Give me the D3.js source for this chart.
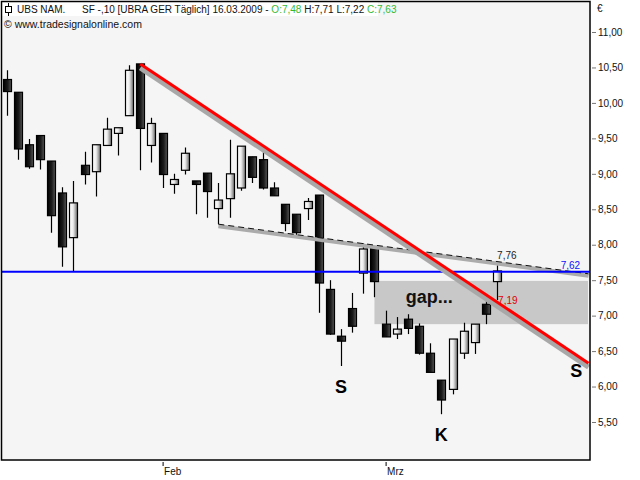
<!DOCTYPE html>
<html><head><meta charset="utf-8">
<script src="https://cdn.jsdelivr.net/npm/d3@7"></script>
<style>
body{margin:0;background:#fff}
svg{display:block}
text{font-family:"Liberation Sans",Arial,sans-serif}
</style>
</head><body>
<svg id="c" width="640" height="480"></svg>
<script>
// ---- data ----
const openV  = [10.33,10.15,9.41,9.54,9.18,8.73,8.10,9.12,9.03,9.40,9.57,9.82,10.55,9.40,9.57,8.85,9.05,8.90,9.01,8.51,8.65,8.80,9.24,9.20,8.80,8.57,8.43,8.51,8.70,7.37,6.71,7.10,7.60,7.96,6.88,6.74,6.95,6.85,6.47,6.09,5.96,6.47,6.62,7.16,7.48];
const highV  = [10.46,10.15,9.49,9.54,9.18,8.81,8.90,9.31,9.41,9.79,9.65,10.53,10.55,9.79,9.57,9.00,9.37,8.90,9.01,8.87,9.48,9.39,9.24,9.36,8.88,8.57,8.43,8.66,8.70,7.50,6.81,7.32,8.02,7.98,7.07,6.98,7.02,6.89,6.61,6.09,6.67,6.90,6.88,7.27,7.71];
const lowV   = [9.82,9.20,9.07,9.06,8.17,7.69,7.63,8.85,8.68,9.40,9.26,9.82,9.05,9.16,8.80,8.72,8.99,8.43,8.38,8.29,8.38,8.76,8.87,8.78,8.69,8.19,8.11,8.35,7.04,6.73,6.29,6.76,7.31,7.26,6.70,6.67,6.74,6.45,6.20,5.61,5.89,6.39,6.46,6.88,7.22];
const closeV = [10.16,9.35,9.10,9.20,8.41,7.97,8.59,8.99,9.41,9.63,9.65,10.46,9.64,9.71,8.99,8.92,9.29,8.85,8.75,8.63,9.00,9.39,8.95,8.80,8.69,8.30,8.17,8.61,7.46,6.74,6.64,6.85,7.94,7.48,6.70,6.81,6.82,6.47,6.20,5.81,6.67,6.78,6.88,7.02,7.63];
const yTickValues = [5.5,6,6.5,7,7.5,8,8.5,9,9.5,10,10.5,11];
const monthIdx = [14,34];
const monthLabels = ["Feb","Mrz"];
const redTrend = [[12,10.55],[52.2,6.33]];
const dashTrend = [[19,8.29],[52.2,7.59]];
const supportLevel = 7.62;
const gapIdx = [33,52.15];
const gapVals = [6.88,7.49];
const valueLabels = [
  {i:44, v:7.76, t:"7,76", c:"#222", dx:0, dy:-3},
  {i:44, v:7.19, t:"7,19", c:"#e00000", dx:1, dy:2},
  {i:49.7, v:7.62, t:"7,62", c:"#1010ff", dx:0, dy:-3}
];
const notes = [
  {i:30, v:5.91, t:"S"},
  {i:39, v:5.23, t:"K"},
  {i:51.1, v:6.13, t:"S"}
];
const gapNote = {i:35.8, v:7.18, t:"gap..."};

// ---- layout ----
const svg = d3.select("#c");
const L=1.5, T=1.5, R=590, B=460;
const x = d3.scaleLinear().domain([0,44]).range([6.5,497.1]);
const y = d3.scaleLinear().domain([5.5,11]).range([422,32]);
const fmt = v => d3.format(".2f")(v).replace(".",",");

const defs = svg.append("defs");
const gUp = defs.append("linearGradient").attr("id","gup");
gUp.append("stop").attr("offset","0%").attr("stop-color","#ffffff");
gUp.append("stop").attr("offset","45%").attr("stop-color","#eeeeee");
gUp.append("stop").attr("offset","100%").attr("stop-color","#6a6a6a");
const gDn = defs.append("linearGradient").attr("id","gdn");
gDn.append("stop").attr("offset","0%").attr("stop-color","#000000");
gDn.append("stop").attr("offset","55%").attr("stop-color","#1c1c1c");
gDn.append("stop").attr("offset","100%").attr("stop-color","#5a5a5a");
defs.append("clipPath").attr("id","plot").append("rect").attr("x",L).attr("y",T).attr("width",R-L).attr("height",B-T);

// plot background
svg.append("rect").attr("x",L).attr("y",T).attr("width",R-L).attr("height",B-T).attr("fill","#f5f5f5");

const plot = svg.append("g").attr("clip-path","url(#plot)");

// gap zone
plot.append("rect")
  .attr("x",x(gapIdx[0])).attr("y",y(gapVals[1]))
  .attr("width",x(gapIdx[1])-x(gapIdx[0])).attr("height",y(gapVals[0])-y(gapVals[1]))
  .attr("fill","#c8c8c8");

// candles
const data = openV.map((o,i)=>({i,o,h:highV[i],l:lowV[i],c:closeV[i]}));
const cg = plot.append("g");
cg.selectAll("line.w").data(data).join("line")
  .attr("x1",d=>Math.round(x(d.i))+0.5).attr("x2",d=>Math.round(x(d.i))+0.5)
  .attr("y1",d=>y(d.h)).attr("y2",d=>y(d.l))
  .attr("stroke","#000").attr("stroke-width",1.2);
cg.selectAll("rect.b").data(data).join("rect")
  .attr("x",d=>Math.round(x(d.i))-3.5).attr("width",8)
  .attr("y",d=>y(Math.max(d.o,d.c)))
  .attr("height",d=>Math.max(1,Math.abs(y(d.o)-y(d.c))))
  .attr("fill",d=>d.c>=d.o?"url(#gup)":"url(#gdn)")
  .attr("stroke","#000").attr("stroke-width",1.2);

// dashed trend line with gray shadow
const ln = d3.line().x(d=>x(d[0])).y(d=>y(d[1]));
plot.append("path").attr("d",ln(dashTrend)).attr("transform","translate(0,2)")
  .attr("fill","none").attr("stroke","#ababab").attr("stroke-width",4);
plot.append("path").attr("d",ln(dashTrend))
  .attr("fill","none").attr("stroke","#111").attr("stroke-width",1).attr("stroke-dasharray","6,4");

// support level
plot.append("line").attr("x1",L).attr("x2",R).attr("y1",y(supportLevel)).attr("y2",y(supportLevel))
  .attr("stroke","#0000ff").attr("stroke-width",2);

// red trend line with gray shadow
plot.append("path").attr("d",ln(redTrend)).attr("transform","translate(0,4)")
  .attr("fill","none").attr("stroke","#a8a8a8").attr("stroke-width",5);
plot.append("path").attr("d",ln(redTrend))
  .attr("fill","none").attr("stroke","#ff0000").attr("stroke-width",3);

// value labels
plot.selectAll("text.vl").data(valueLabels).join("text")
  .attr("x",d=>x(d.i)+d.dx).attr("y",d=>y(d.v)+d.dy)
  .attr("font-size",10).attr("fill",d=>d.c).text(d=>d.t);

// annotations
plot.selectAll("text.n").data(notes).join("text")
  .attr("x",d=>x(d.i)).attr("y",d=>y(d.v)).attr("text-anchor","middle")
  .attr("font-size",18).attr("font-weight","bold").attr("fill","#000").text(d=>d.t);
plot.append("text").attr("x",x(gapNote.i)).attr("y",y(gapNote.v))
  .attr("font-size",18).attr("font-weight","bold").attr("fill","#111").text(gapNote.t);

// header
svg.append("rect").attr("x",2).attr("y",2).attr("width",376).attr("height",14).attr("fill","#ffffff");
const hg = svg.append("g");
hg.append("line").attr("x1",8.5).attr("x2",8.5).attr("y1",3).attr("y2",16).attr("stroke","#000");
hg.append("rect").attr("x",5.5).attr("y",6.5).attr("width",6).attr("height",6).attr("fill","#fff").attr("stroke","#000");
const h1 = hg.append("text").attr("x",17).attr("y",13).attr("font-size",10).attr("fill","#111");
h1.append("tspan").text("UBS NAM.");
h1.append("tspan").attr("x",82).text("SF -,10 [UBRA GER  Täglich] 16.03.2009 - ");
h1.append("tspan").attr("fill","#33bb33").text("O:7,48");
h1.append("tspan").text(" H:7,71 L:7,22 ");
h1.append("tspan").attr("fill","#33bb33").text("C:7,63");
hg.append("text").attr("x",4).attr("y",28).attr("font-size",10.5).attr("fill","#111").text("© www.tradesignalonline.com");

// frame
svg.append("rect").attr("x",L).attr("y",T).attr("width",R-L).attr("height",B-T)
  .attr("fill","none").attr("stroke","#000").attr("stroke-width",1.5);

// y axis
const ya = svg.append("g").attr("transform",`translate(${R+2},0)`)
  .call(d3.axisRight(y).tickValues(yTickValues).tickFormat(fmt).tickSize(4).tickPadding(2));
ya.select(".domain").remove();
ya.selectAll(".tick line").attr("stroke","#777");
ya.selectAll(".tick text").attr("font-size",10).attr("fill","#111").attr("font-family","'Liberation Sans',Arial,sans-serif");
svg.append("text").attr("x",597).attr("y",12).attr("font-size",10).attr("fill","#111").text("€");

// x axis
const xa = svg.append("g").attr("transform",`translate(0,${B+2})`)
  .call(d3.axisBottom(x).tickValues(monthIdx).tickFormat((d,k)=>monthLabels[k]).tickSize(4).tickPadding(0));
xa.select(".domain").remove();
xa.selectAll(".tick line").attr("stroke","#000");
xa.selectAll(".tick text").attr("text-anchor","start").attr("dx",1).attr("dy","0.9em")
  .attr("font-size",10).attr("fill","#111").attr("font-family","'Liberation Sans',Arial,sans-serif");
</script>
</body></html>
